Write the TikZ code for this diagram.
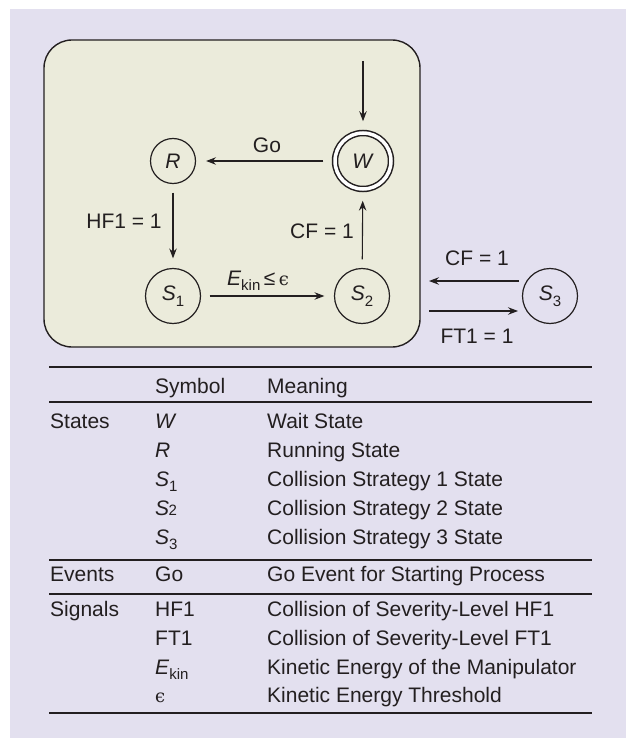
\documentclass[tikz,border=0pt]{standalone}
\usepackage{fontspec}
\setmainfont{Liberation Sans}
\newfontfamily\djv{DejaVu Serif}
\usetikzlibrary{arrows.meta,calc}
\definecolor{bgc}{RGB}{227,224,239}
\definecolor{panelc}{RGB}{235,235,219}
\definecolor{ink}{RGB}{35,31,32}
\newcommand{\mysub}[1]{\raisebox{-0.28em}{\fontsize{15}{15}\selectfont #1}}
\newcommand{\myeps}{{\djv\fontsize{18}{18}\selectfont ϵ}}
\begin{document}
\begin{tikzpicture}[x=1pt,y=-1pt,
  font=\fontsize{21}{25}\selectfont, color=ink,
  state/.style={circle, draw=ink, line width=1.2pt, inner sep=0pt, minimum size=55pt},
  arr/.style={-{Stealth[length=10pt,width=7.5pt,inset=3.5pt]}, line width=1.1pt, draw=ink, shorten <=8.5pt, shorten >=9.5pt},
  lbl/.style={anchor=base, inner sep=0pt, text=ink},
  cell/.style={anchor=base west, inner sep=0pt, text=ink},
  rule/.style={line width=1.3pt, draw=ink}]
\useasboundingbox (0,0) rectangle (626,738);
\fill[bgc] (10,9) rectangle (626,738);
\draw[fill=panelc, draw=ink, line width=1.4pt, rounded corners=28pt] (44,40) rectangle (420,347);

% states
\node[state, minimum size=45pt] (R) at (173,161) {\textit{R}};
\node[circle, draw=ink, line width=1.5pt, double=white, double distance=3.5pt, minimum size=56pt, inner sep=0pt] (W) at (363,161) {\textit{W}};
\node[state] (S1) at (173,296) {\textit{S}\mysub{1}};
\node[state] (S2) at (362,296) {\textit{S}\mysub{2}};
\node[state] (S3) at (550,296) {\textit{S}\mysub{3}};

% connectors
\coordinate (init) at (363,61);
\draw[arr, shorten <=0pt, shorten >=11pt] (init) -- (W);
\draw[arr, shorten <=11pt, shorten >=10pt] (W) -- (R);
\draw[arr] (R) -- (S1);
\draw[arr] (S1) -- (S2);
\draw[arr, shorten >=11pt] (S2) -- (W);
\draw[arr, shorten <=0pt, shorten >=0pt] ($(S3.center)+(-31,-15)$) -- ($(S2.center)+(67,-15)$);
\draw[arr, shorten <=0pt, shorten >=0pt] ($(S2.center)+(67,15)$) -- ($(S3.center)+(-32,15)$);

% edge labels
\node[lbl] (lGo) at (267,153) {Go};
\node[lbl] (lHF) at (124,228) {HF1 = 1};
\node[lbl] (lCF) at (322,238) {CF = 1};
\node[lbl] (lE) at (258,285) {\textit{E}\mysub{kin}\,≤\,\myeps};
\node[lbl] (lCF3) at (477,265) {CF = 1};
\node[lbl] (lFT) at (477,343) {FT1 = 1};

% table
\draw[rule] (49,367) -- (592,367);
\draw[rule] (49,402) -- (592,402);
\draw[rule] (49,560) -- (592,560);
\draw[rule] (49,594) -- (592,594);
\draw[rule] (49,713) -- (592,713);

\node[cell] (hSym) at (155,393) {Symbol};
\node[cell] (hMean) at (267,393) {Meaning};

\node[cell] (tStates) at (50,428) {States};
\node[cell] (tW) at (155,428) {\textit{W}};
\node[cell] (mW) at (267,428) {Wait State};
\node[cell] (tR) at (155,457) {\textit{R}};
\node[cell] (mR) at (267,457) {Running State};
\node[cell] (tS1) at (155,486) {\textit{S}\mysub{1}};
\node[cell] (mS1) at (267,486) {Collision Strategy 1 State};
\node[cell] (tS2) at (155,515) {\textit{S}\kern-0.5pt{\fontsize{15}{15}\selectfont 2}};
\node[cell] (mS2) at (267,515) {Collision Strategy 2 State};
\node[cell] (tS3) at (155,544) {\textit{S}\mysub{3}};
\node[cell] (mS3) at (267,544) {Collision Strategy 3 State};

\node[cell] (tEvents) at (50,581) {Events};
\node[cell] (tGo) at (155,581) {Go};
\node[cell] (mGo) at (267,581) {Go Event for Starting Process};

\node[cell] (tSignals) at (50,616) {Signals};
\node[cell] (tHF) at (155,616) {HF1};
\node[cell] (mHF) at (267,616) {Collision of Severity-Level HF1};
\node[cell] (tFT) at (155,645) {FT1};
\node[cell] (mFT) at (267,645) {Collision of Severity-Level FT1};
\node[cell] (tE) at (155,674) {\textit{E}\mysub{kin}};
\node[cell] (mE) at (267,674) {Kinetic Energy of the Manipulator};
\node[cell] (tEps) at (155,702) {\myeps};
\node[cell] (mEps) at (267,702) {Kinetic Energy Threshold};
\end{tikzpicture}
\end{document}
